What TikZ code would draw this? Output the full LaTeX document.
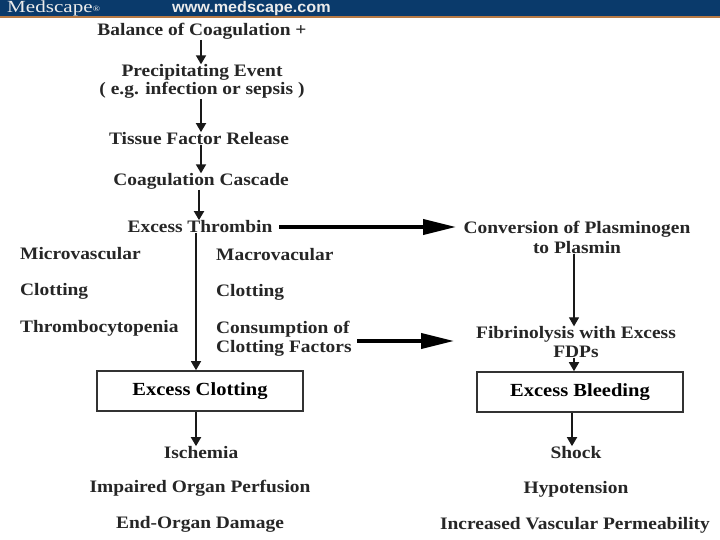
\documentclass[tikz,border=0pt]{standalone}
\usepackage{fontspec}
\setmainfont[FakeStretch=1.11]{Liberation Serif}
\newfontfamily\hdfont[FakeStretch=1.05]{Liberation Sans}
\newfontfamily\brandfont[FakeStretch=1.24]{Liberation Serif}
\usetikzlibrary{arrows.meta}
\definecolor{bar}{HTML}{0A3A6B}
\definecolor{barline}{HTML}{B87A45}
\tikzset{
 lab/.style={font=\fontsize{17.5}{18}\selectfont\bfseries,text=black!85,inner sep=0pt,align=center,yshift=-1.5pt},
 labl/.style={lab,anchor=west,align=left},
 boxn/.style={draw=black!80,line width=1.6pt,fill=white,minimum width=206pt,minimum height=40pt,inner sep=0pt,font=\fontsize{18.5}{18}\selectfont\bfseries},
 flow/.style={line width=1.8pt,draw=black!90,-{Triangle[length=9pt,width=10pt]}},
 big/.style={line width=3.8pt,draw=black,-{Triangle[length=33pt,width=15pt]}}
}
\begin{document}
\begin{tikzpicture}[x=1pt,y=-1pt]
\useasboundingbox (0,0) rectangle (720,540);
\fill[white] (0,0) rectangle (720,540);
\fill[bar] (0,0) rectangle (720,16);
\fill[barline] (0,16) rectangle (720,18);
\node[anchor=west,text=white!92!black,inner sep=0pt,font=\brandfont\fontsize{17}{17}\selectfont] (brand) at (7,8.5) {Medscape\raisebox{1pt}{\fontsize{8}{8}\selectfont®}};
\node[anchor=west,text=white!92!black,inner sep=0pt,font=\hdfont\fontsize{15.4}{16}\selectfont\bfseries] (url) at (172,8.5) {www.medscape.com};

\node[lab] (bal) at (202,30) {Balance of Coagulation +};
\node[lab] (pre) at (202,71) {Precipitating Event};
\node[lab] (eg) at (202,89) {( e.g. infection or sepsis )};
\node[lab] (tis) at (199,137) {Tissue Factor Release};
\node[lab] (cas) at (201,180) {Coagulation Cascade};
\node[lab] (thr) at (200,225) {Excess Thrombin};
\node[labl] (mic) at (20,252) {Microvascular};
\node[labl] (clo) at (20,290) {Clotting};
\node[labl] (thp) at (20,327) {Thrombocytopenia};
\node[labl] (mac) at (216,253) {Macrovacular};
\node[labl] (clo2) at (216,291) {Clotting};
\node[labl] (con) at (216,328) {Consumption of};
\node[labl] (con2) at (216,347) {Clotting Factors};
\node[boxn] (exc) at (200,391) {\raisebox{-1.5pt}{Excess Clotting}};
\node[lab] (isc) at (201,451) {Ischemia};
\node[lab] (imp) at (200,487) {Impaired Organ Perfusion};
\node[lab] (end) at (200,523) {End-Organ Damage};

\node[lab] (conv) at (577,228) {Conversion of Plasminogen};
\node[lab] (plas) at (577,246) {to Plasmin};
\node[lab] (fib) at (576,333) {Fibrinolysis with Excess};
\node[lab] (fdp) at (576,350) {FDPs};
\node[boxn] (exb) at (580,392) {\raisebox{-1.5pt}{Excess Bleeding}};
\node[lab] (sho) at (576,451) {Shock};
\node[lab] (hyp) at (576,488) {Hypotension};
\node[lab] (inc) at (575,524) {Increased Vascular Permeability};

\coordinate (a1s) at (279,227);
\coordinate (a1e) at (456,227);
\coordinate (a2s) at (357,341);
\coordinate (a2e) at (454,341);

\draw[flow] (bal.south -| 201,41) -- (pre.north -| 201,64);
\draw[flow] (eg.south -| 201,103) -- (tis.north -| 201,129);
\draw[flow] (tis.south -| 201,147) -- (cas.north -| 201,172);
\draw[flow] (cas.south -| 199,191) -- (thr.north -| 199,218);
\draw[flow,line width=1.3pt] (thr.south -| 196,235) -- (exc.north -| 196,371);
\draw[flow] (exc.south -| 196,411) -- (isc.north -| 196,442);
\draw[flow,line width=1.3pt] (plas.south -| 574,256) -- (fib.north -| 574,323);
\draw[flow] (fdp.south -| 574,360) -- (exb.north -| 574,372);
\draw[flow] (exb.south -| 572,412) -- (sho.north -| 572,442);
\draw[big] (a1s) -- (a1e);
\draw[big] (a2s) -- (a2e);
\end{tikzpicture}
\end{document}
